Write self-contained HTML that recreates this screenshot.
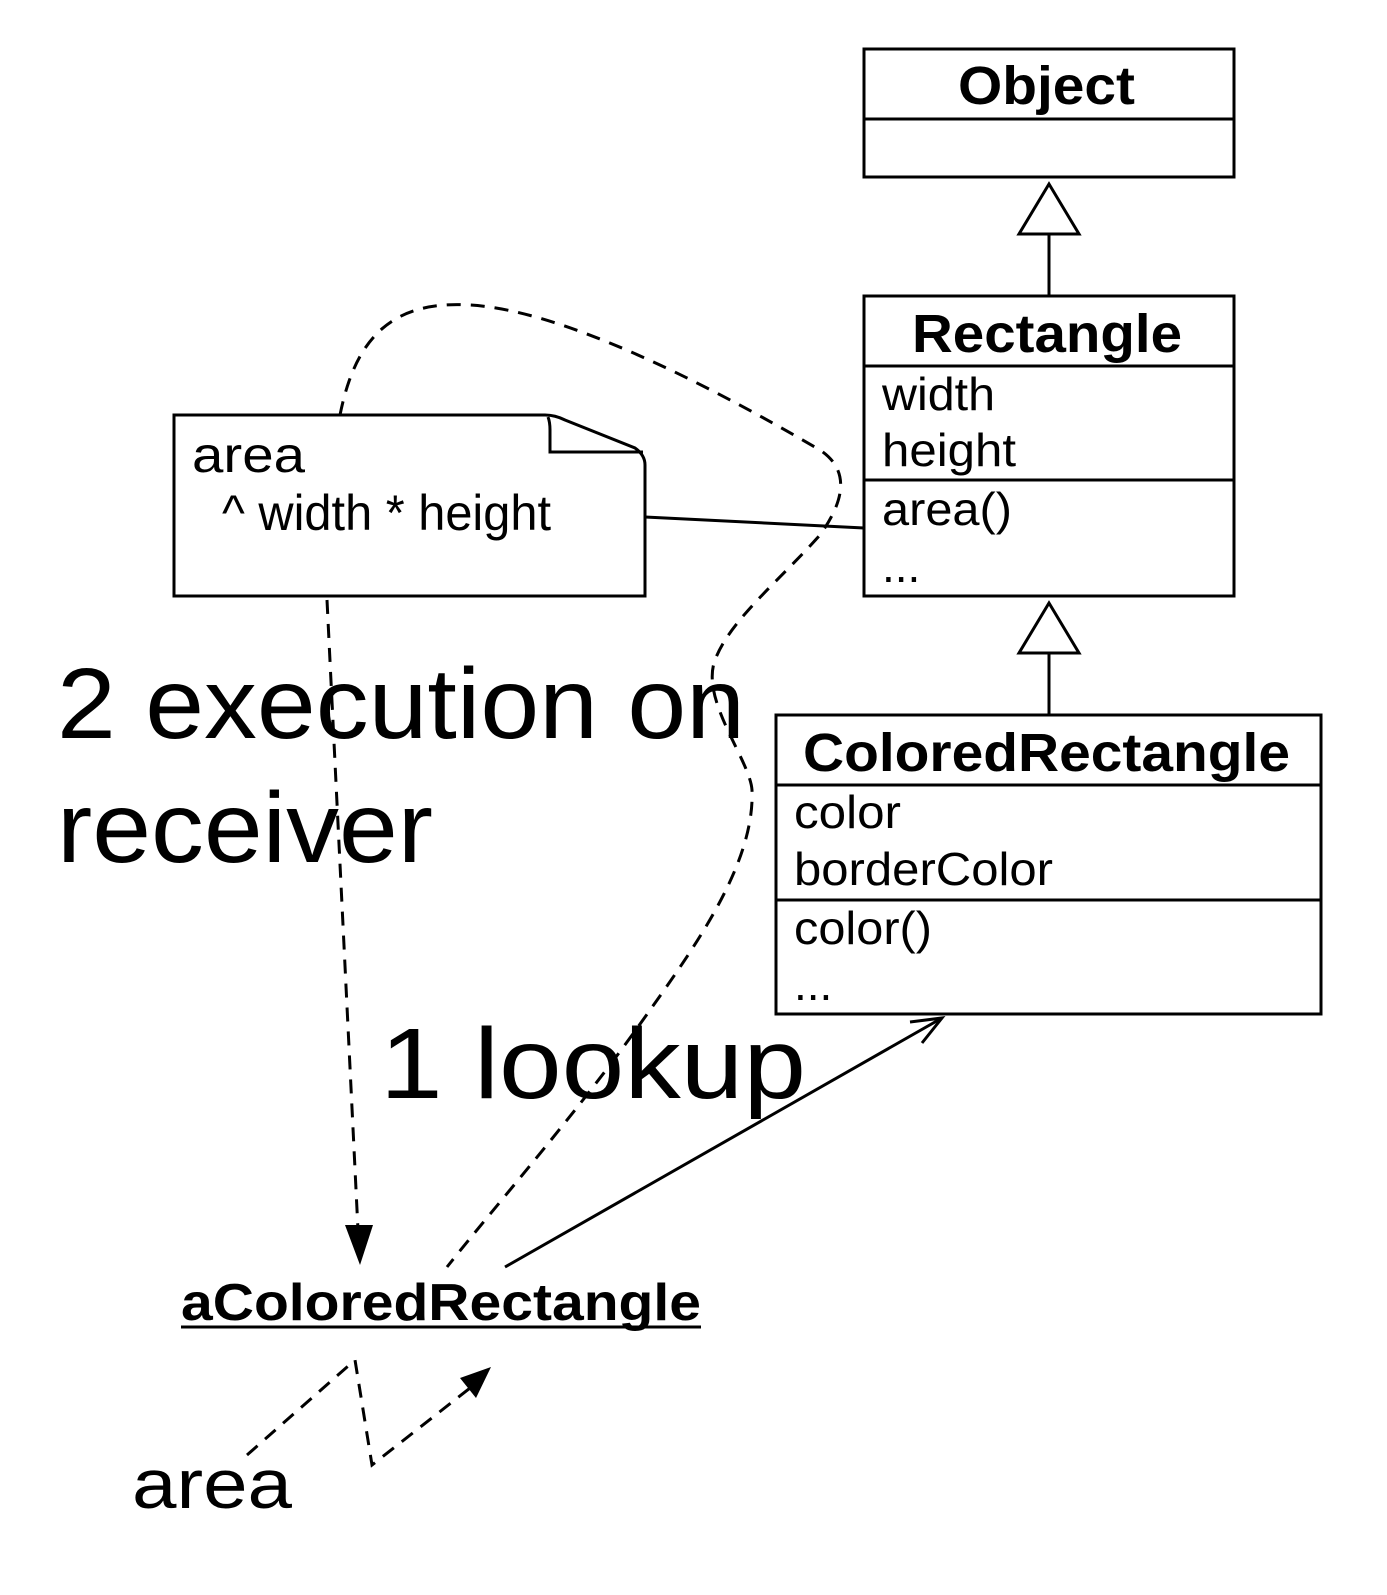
<!DOCTYPE html>
<html><head><style>
html,body{margin:0;padding:0;background:#fff;width:1387px;height:1595px;overflow:hidden}
svg text{font-family:"Liberation Sans",Arial,sans-serif;fill:#000}
</style></head><body>
<svg width="1387" height="1595" viewBox="0 0 1387 1595" xmlns="http://www.w3.org/2000/svg">
<g fill="none" stroke="#000" stroke-width="3">
<rect x="864" y="49" width="370" height="128"/>
<line x1="864" y1="119" x2="1234" y2="119"/>
<polygon points="1049,184 1019,234 1079,234"/>
<line x1="1049" y1="234" x2="1049" y2="296"/>
<rect x="864" y="296" width="370" height="300"/>
<line x1="864" y1="366" x2="1234" y2="366"/>
<line x1="864" y1="480" x2="1234" y2="480"/>
<polygon points="1049,603 1019,653 1079,653"/>
<line x1="1049" y1="653" x2="1049" y2="715"/>
<rect x="776" y="715" width="545" height="299"/>
<line x1="776" y1="785" x2="1321" y2="785"/>
<line x1="776" y1="900" x2="1321" y2="900"/>
<path d="M174,415 L545,415 Q555,415 565,420 L635,448 Q645,455 645,465 L645,596 L174,596 Z"/>
<path d="M548,417 Q550,422 550,430 L550,452 L643,452"/>
<line x1="645" y1="517" x2="864" y2="528"/>
<line x1="505" y1="1267" x2="942" y2="1018"/>
<polyline points="910,1022 942,1018 922,1043"/>
</g>
<g fill="none" stroke="#000" stroke-width="3" stroke-dasharray="14,10">
<line x1="327" y1="600" x2="358" y2="1230"/>
<path d="M340,415 C355,340 390,300 470,305 C560,310 700,380 820,450 C850,470 845,500 820,535 C780,580 730,620 715,660 C700,700 750,760 752,790 C755,860 700,940 650,1010 C580,1110 500,1200 447,1267"/>
<polyline points="247,1455 355,1360 372,1465 470,1388"/>
</g>
<polygon points="345,1225 373,1225 360,1265" fill="#000"/>
<polygon points="460,1378 491,1367 476,1398" fill="#000"/>
<g lengthAdjust="spacingAndGlyphs">
<text x="958" y="104" font-size="54" font-weight="bold" textLength="177" lengthAdjust="spacingAndGlyphs">Object</text>
<text x="912" y="352" font-size="54" font-weight="bold" textLength="270" lengthAdjust="spacingAndGlyphs">Rectangle</text>
<text x="882" y="410" font-size="46" textLength="113" lengthAdjust="spacingAndGlyphs">width</text>
<text x="882" y="466" font-size="46" textLength="134" lengthAdjust="spacingAndGlyphs">height</text>
<text x="882" y="525" font-size="46" textLength="130" lengthAdjust="spacingAndGlyphs">area()</text>
<text x="882" y="582" font-size="46">...</text>
<text x="803" y="771" font-size="54" font-weight="bold" textLength="487" lengthAdjust="spacingAndGlyphs">ColoredRectangle</text>
<text x="794" y="828" font-size="46" textLength="107" lengthAdjust="spacingAndGlyphs">color</text>
<text x="794" y="885" font-size="46" textLength="259" lengthAdjust="spacingAndGlyphs">borderColor</text>
<text x="794" y="944" font-size="46" textLength="138" lengthAdjust="spacingAndGlyphs">color()</text>
<text x="794" y="1000" font-size="46">...</text>
<text x="192" y="472" font-size="50" textLength="113" lengthAdjust="spacingAndGlyphs">area</text>
<text x="222" y="530" font-size="50" textLength="329" lengthAdjust="spacingAndGlyphs">^ width * height</text>
<text x="57" y="738" font-size="100" textLength="688" lengthAdjust="spacingAndGlyphs">2 execution on</text>
<text x="57" y="862" font-size="100" textLength="376" lengthAdjust="spacingAndGlyphs">receiver</text>
<text x="380" y="1098" font-size="100" textLength="426" lengthAdjust="spacingAndGlyphs">1 lookup</text>
<text x="181" y="1320" font-size="52" font-weight="bold" textLength="520" lengthAdjust="spacingAndGlyphs">aColoredRectangle</text>
<text x="132" y="1508" font-size="70" textLength="160" lengthAdjust="spacingAndGlyphs">area</text>
</g>
<line x1="181" y1="1327" x2="701" y2="1327" stroke="#000" stroke-width="3"/>
</svg>
</body></html>
